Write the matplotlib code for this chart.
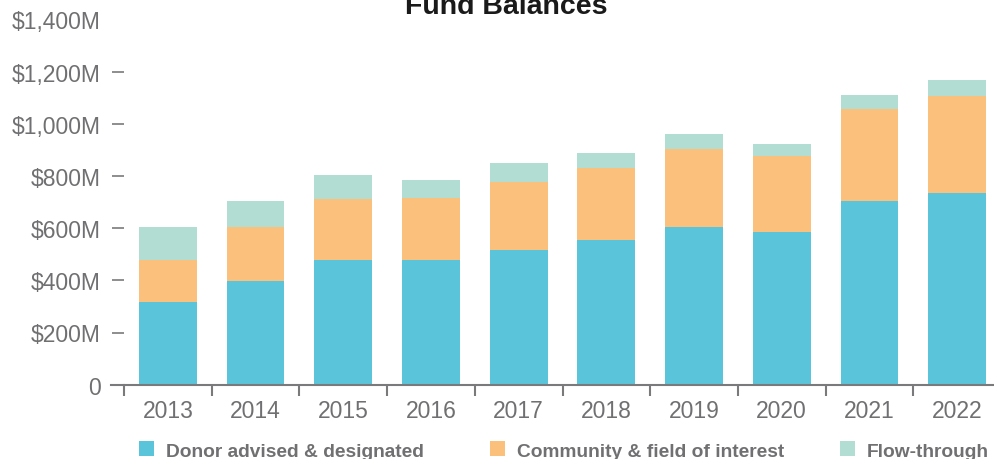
import matplotlib.pyplot as plt
import numpy as np
from matplotlib.patches import Rectangle
from matplotlib.lines import Line2D

# Data ($M)
years = ['2013', '2014', '2015', '2016', '2017', '2018', '2019', '2020', '2021', '2022']
donor_advised = [317, 397, 478, 478, 516, 554, 605, 585, 704, 734]
community = [162, 207, 233, 236, 262, 276, 299, 291, 353, 372]
flow_through = [125, 100, 92, 70, 71, 58, 56, 46, 53, 61]

series_names = ['Donor advised & designated', 'Community & field of interest', 'Flow-through']
colors = ['#5AC5DA', '#FBC07B', '#B2DDD2']

ytick_vals = [0, 200, 400, 600, 800, 1000, 1200, 1400]
ytick_labels = ['0', '$200M', '$400M', '$600M', '$800M', '$1,000M', '$1,200M', '$1,400M']

gray = '#707072'
axis_gray = '#7a7a7c'
W, H = 995, 460

plt.rcParams['font.family'] = ['Liberation Sans', 'DejaVu Sans']

fig = plt.figure(figsize=(W / 100, H / 100), dpi=100)
ax = fig.add_axes([124 / W, 1 - 385.7 / H, 877 / W, 365.4 / H])

x = np.arange(len(years))
bw = 0.66
bottom = np.zeros(len(years))
for vals, c in zip([donor_advised, community, flow_through], colors):
    ax.bar(x, vals, bw, bottom=bottom, color=c, linewidth=0)
    bottom += np.array(vals)

ax.set_xlim(-0.5, len(years) - 0.5)
ax.set_ylim(0, 1400)

for s in ['top', 'right', 'left']:
    ax.spines[s].set_visible(False)
ax.spines['bottom'].set_color(axis_gray)
ax.spines['bottom'].set_linewidth(1.5)

# extend axis line to the left under the y tick marks
ax.add_line(Line2D([-13 / 877, 0], [0, 0], transform=ax.transAxes, color=axis_gray,
                   linewidth=1.5, clip_on=False))

ax.set_yticks(ytick_vals)
ax.set_yticklabels(ytick_labels)
ax.tick_params(axis='y', length=8.5, width=1.2, color=axis_gray, pad=8.5,
               labelsize=16.5, labelcolor=gray)
ticks = ax.yaxis.get_major_ticks()
ticks[0].tick1line.set_visible(False)
ticks[-1].tick1line.set_visible(False)

ax.set_xticks(x)
ax.set_xticklabels(years)
ax.set_xticks(np.arange(len(years)) - 0.5, minor=True)
ax.tick_params(axis='x', which='major', length=0, pad=10, labelsize=16.5, labelcolor=gray)
ax.tick_params(axis='x', which='minor', length=8, width=1.5, color=axis_gray)

# title (partly cut off at the top, as in the original)
fig.text(506 / W, 1 - 13.5 / H, 'Fund Balances', ha='center', va='baseline',
         fontsize=20.5, fontweight='bold', color='#1a1a1a')

# legend
leg_x = [139, 490, 840]
for lx, name, c in zip(leg_x, series_names, colors):
    fig.add_artist(Rectangle((lx / W, 1 - 457 / H), 15 / W, 15 / H, transform=fig.transFigure,
                             facecolor=c, edgecolor='none'))
    fig.text((lx + 27) / W, 1 - 457 / H, name, ha='left', va='baseline',
             fontsize=13.8, fontweight='bold', color=gray)

fig.savefig('out.png', dpi=100)
